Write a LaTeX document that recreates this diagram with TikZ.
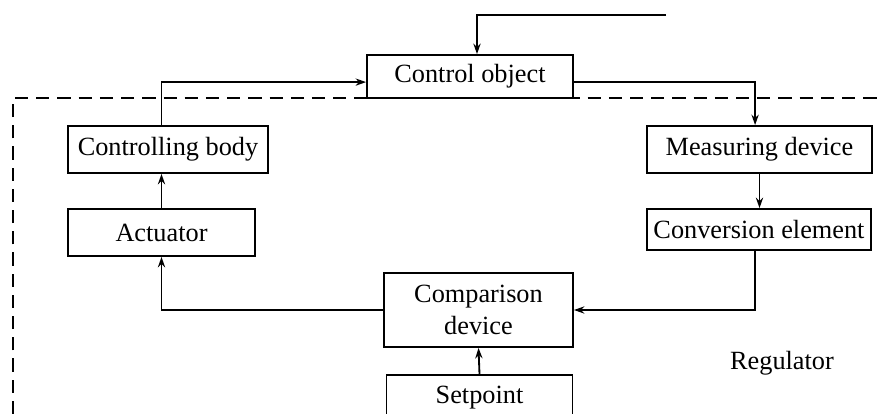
\documentclass[tikz,border=0pt]{standalone}
\usepackage{fontspec}
\setmainfont{Liberation Serif}
\usetikzlibrary{arrows.meta}

\begin{document}
\begin{tikzpicture}[x=0.025cm,y=-0.025cm,line width=1.3pt,
  font=\fontsize{18.7}{22.8}\selectfont,
  box/.style={draw,fill=white,inner sep=0pt,align=center},
  arr/.style={-{Stealth[length=0.26cm,width=0.18cm]}}]
\useasboundingbox (0,0) rectangle (877,414);
\draw[dash pattern=on 0.33cm off 0.2cm] (13,414) -- (13,98) -- (877,98);
\node[box,minimum width=5.15cm,minimum height=1.075cm] (ctrl) at (470,76.5) {Control object};
\node[box,minimum width=5cm,minimum height=1.175cm] (body) at (168,149.5) {Controlling body};
\node[box,minimum width=4.675cm,minimum height=1.175cm] (act) at (161.5,232.5) {Actuator};
\node[box,minimum width=5.625cm,minimum height=1.175cm] (meas) at (759.5,149.5) {Measuring device};
\node[box,minimum width=5.6cm,minimum height=1.025cm] (conv) at (759,229.5) {Conversion element};
\node[box,minimum width=4.725cm,minimum height=1.85cm] (comp) at (478.5,310) {Comparison\\device};
\node[box,minimum width=4.65cm,minimum height=1.15cm] (set) at (479.5,398) {Setpoint};
\node (reg) at (782,363) {Regulator};
\coordinate (in) at (666,15);
\draw[arr] (in) -| ([xshift=0.175cm]ctrl.north);
\draw[arr] (act.north |- body.north) |- ([yshift=-0.14cm]ctrl.west);
\draw[arr] ([yshift=-0.14cm]ctrl.east) -| ([xshift=-0.11cm]meas.north);
\draw[arr] ([xshift=-0.1cm]conv.south) |- (comp.east);
\draw[arr] (comp.west) -| (act.south);
\path[arr]
(act.north) edge (act.north |- body.south)
(meas.south) edge (meas.south |- conv.north)
(set.north) edge (comp.south)
;
\end{tikzpicture}
\end{document}
